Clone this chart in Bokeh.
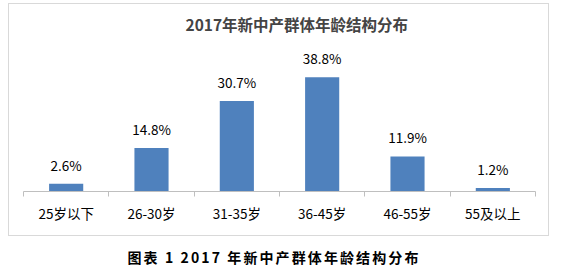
from bokeh.plotting import figure
from bokeh.models import ColumnDataSource, FixedTicker, Div, Range1d, InlineStyleSheet
from bokeh.layouts import column
from bokeh.core.properties import value
from bokeh.embed import file_html
from bokeh.resources import INLINE

categories = ["25岁以下", "26-30岁", "31-35岁", "36-45岁", "46-55岁", "55及以上"]
values = [2.6, 14.8, 30.7, 38.8, 11.9, 1.2]
value_labels = ["2.6%", "14.8%", "30.7%", "38.8%", "11.9%", "1.2%"]
title_text = "2017年新中产群体年龄结构分布"
caption_text = "图表 1 2017 年新中产群体年龄结构分布"

FONT = "Noto Sans CJK SC"
xs = [i + 0.5 for i in range(len(categories))]
src = ColumnDataSource(dict(x=xs, top=values, label=value_labels))

p = figure(width=562, height=240, output_backend="svg", toolbar_location=None,
           x_range=Range1d(0, len(categories)), y_range=Range1d(0, 51.25),
           min_border_left=23, min_border_right=27, min_border_top=40, min_border_bottom=49)
p.outline_line_color = None
p.background_fill_color = "white"
p.border_fill_color = "white"
p.grid.visible = False
p.yaxis.visible = False

p.vbar(x="x", top="top", width=0.4, bottom=0, source=src, color="#4f81bd", line_color=None)
p.text(x="x", y="top", text="label", source=src, text_align="center", text_baseline="middle",
       y_offset=-19, text_font=value(FONT), text_font_size="13.5px", text_color="#000000")

ax = p.xaxis[0]
ax.ticker = FixedTicker(ticks=xs, minor_ticks=list(range(len(categories) + 1)))
ax.major_label_overrides = {x: c for x, c in zip(xs, categories)}
ax.major_tick_line_color = None
ax.minor_tick_in = 0
ax.minor_tick_out = 5
ax.minor_tick_line_color = "#bfbfbf"
ax.axis_line_color = "#bfbfbf"
ax.major_label_standoff = 5
ax.major_label_text_font = FONT
ax.major_label_text_font_size = "13.5px"
ax.major_label_text_color = "#000000"

p.title.text = title_text
p.title.text_font = FONT
p.title.text_font_size = "15.5px"
p.title.text_font_style = "bold"
p.title.align = "left"
p.title.offset = 162
p.title.standoff = 11

p.stylesheets = [InlineStyleSheet(css=":host::after{content:'';position:absolute;left:8px;top:3px;"
                                      "width:541px;height:233px;border:1px solid #d9d9d9;"
                                      "pointer-events:none;z-index:10;}")]

cap = Div(text=caption_text, width=562, height=27,
          styles={"font-family": FONT, "font-weight": "bold", "font-size": "14px",
                  "letter-spacing": "2.1px", "text-align": "center", "width": "538px",
                  "line-height": "27px", "color": "#000000", "margin-top": "4px"})

layout = column(p, cap, spacing=0)
open("out.html", "w").write(file_html(layout, INLINE))
